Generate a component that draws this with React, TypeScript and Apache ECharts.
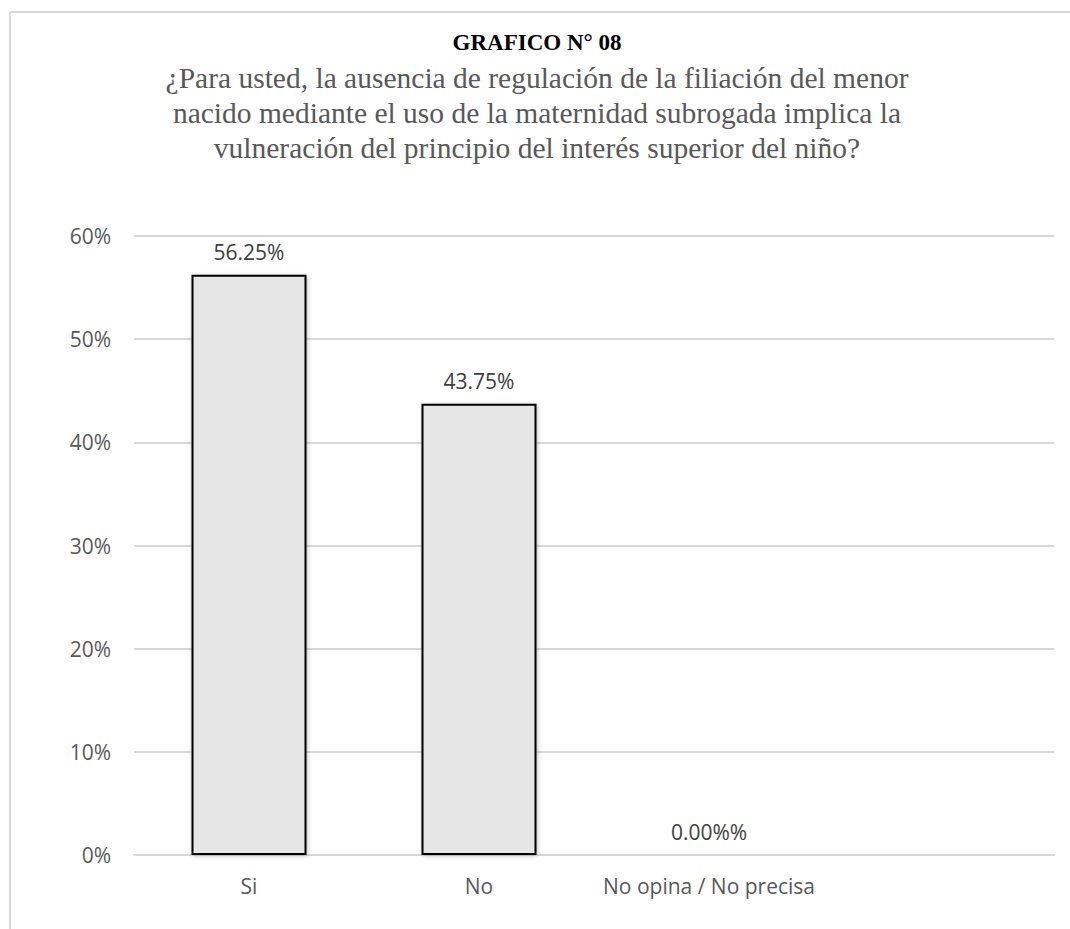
import React, { useEffect, useRef } from "react";
import * as echarts from "echarts";

const titleText = "GRAFICO N° 08";
const subtitleLines = [
  "¿Para usted, la ausencia de regulación de la filiación del menor",
  "nacido mediante el uso de la maternidad subrogada implica la",
  "vulneración del principio del interés superior del niño?",
];
const categories = ["Si", "No", "No opina / No precisa", ""];
const values = [56.25, 43.75, 0, null];
const valueLabels = ["56.25%", "43.75%", "0.00%%", ""];
const yMin = 0;
const yMax = 60;
const yInterval = 10;

export default function App() {
  const ref = useRef<HTMLDivElement>(null);
  useEffect(() => {
    if (!ref.current) return;
    const chart = echarts.init(ref.current, null, { renderer: "svg" });
    chart.setOption({
      animation: false,
      backgroundColor: "#ffffff",
      title: [
        {
          text: titleText,
          left: 532,
          textAlign: "center",
          top: 23,
          textStyle: {
            fontFamily: "Liberation Serif",
            fontWeight: "bold",
            fontSize: 23,
            lineHeight: 28,
            color: "#000000",
          },
        },
        {
          text: subtitleLines.join("\n"),
          left: 532,
          textAlign: "center",
          top: 55,
          textStyle: {
            fontFamily: "Liberation Serif",
            fontWeight: "normal",
            fontSize: 29.5,
            lineHeight: 35,
            color: "#595959",
          },
        },
      ],
      graphic: [
        {
          type: "line",
          shape: { x1: 10, y1: 12, x2: 10, y2: 929 },
          style: { stroke: "#d9d9d9", lineWidth: 2 },
          silent: true,
        },
        {
          type: "line",
          shape: { x1: 10, y1: 12, x2: 1070, y2: 12 },
          style: { stroke: "#d9d9d9", lineWidth: 2 },
          silent: true,
        },
      ],
      grid: { left: 134, right: 16, top: 236, bottom: 74, containLabel: false },
      xAxis: {
        type: "category",
        data: categories,
        axisLine: { show: true, lineStyle: { color: "#d9d9d9", width: 2 } },
        axisTick: { show: false },
        axisLabel: {
          interval: 0,
          color: "#595959",
          fontFamily: "Open Sans",
          fontSize: 21,
          margin: 20,
        },
        splitLine: { show: false },
      },
      yAxis: {
        type: "value",
        min: yMin,
        max: yMax,
        interval: yInterval,
        axisLine: { show: false },
        axisTick: { show: false },
        axisLabel: {
          color: "#595959",
          fontFamily: "Open Sans",
          fontSize: 21,
          margin: 23,
          formatter: (v: number) => `${v}%`,
        },
        splitLine: { lineStyle: { color: "#d9d9d9", width: 2 } },
      },
      series: [
        {
          type: "bar",
          data: values,
          barWidth: "50%",
          itemStyle: {
            color: "#e6e6e6",
            borderColor: "#000000",
            borderWidth: 2,
            shadowColor: "rgba(0,0,0,0.25)",
            shadowBlur: 4,
            shadowOffsetX: 1,
            shadowOffsetY: 1,
          },
          label: {
            show: true,
            position: "top",
            distance: 12,
            color: "#404040",
            fontFamily: "Open Sans",
            fontSize: 21,
            formatter: (p: any) => valueLabels[p.dataIndex],
          },
        },
      ],
    });
    return () => chart.dispose();
  }, []);
  return (
    <div
      ref={ref}
      style={{ position: "absolute", left: 0, top: 0, width: 1070, height: 929 }}
    />
  );
}
